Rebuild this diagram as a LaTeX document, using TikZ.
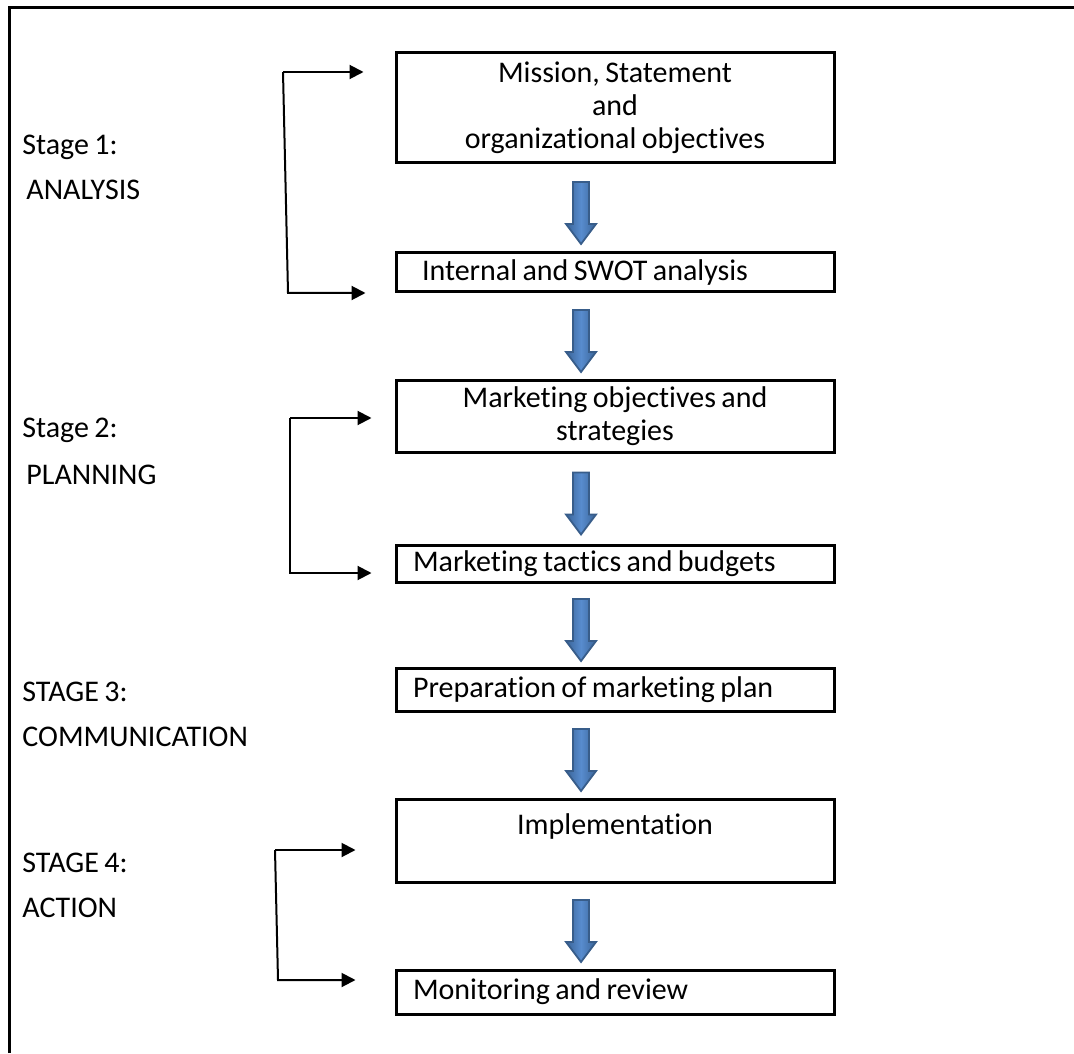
\documentclass[tikz,border=0pt]{standalone}
\usepackage{fontspec}
\setmainfont{Carlito}[Ligatures=NoCommon, WordSpace=0.8]
\usetikzlibrary{arrows.meta,calc}
\definecolor{arrowdark}{RGB}{58,100,152}
\definecolor{arrowlight}{RGB}{88,140,206}
\definecolor{arrowedge}{RGB}{56,93,138}

\begin{document}
\begin{tikzpicture}[x=0.5pt, y=-0.5pt, font=\fontsize{15}{16.5}\selectfont,
  box/.style = {draw, line width=1.5pt, minimum width=219pt, align=center, inner sep=0pt},
  leftbox/.style = {box, text width=202pt, align=flush left},
  stage/.style = {anchor=west, inner sep=0pt},
  bracket/.style = {line width=1pt, -{Triangle[length=7pt,width=7pt]}},
  downarrow/.pic = {
    \draw[arrowedge, line width=0.9pt, left color=arrowdark, right color=arrowdark, middle color=arrowlight]
      (-8,-31) -- (-8,11) -- (-15,11) -- (0,31) -- (15,11) -- (8,11) -- (8,-31) -- cycle;
  }]
\useasboundingbox (0,0) rectangle (1074,1053);
\draw[line width=1.5pt] (9,1053) -- (9,8) -- (1074,8);

% stage labels
\node[stage] (stage1) at (22,147) {Stage 1:};
\node[stage] (analysis) at (26,190) {ANALYSIS};
\node[stage] (stage2) at (22,430) {Stage 2:};
\node[stage] (planning) at (26,475) {PLANNING};
\node[stage] (stage3) at (22,692) {STAGE 3:};
\node[stage] (communication) at (22,737) {COMMUNICATION};
\node[stage] (stage4) at (22,863) {STAGE 4:};
\node[stage] (action) at (22,908) {ACTION};

% boxes
\node[box, minimum height=55pt] (mission) at (615,108) {Mission, Statement\\and\\organizational objectives};
\node[leftbox, text width=193pt, minimum height=19.5pt] (swot) at (615,272.5) {Internal and SWOT analysis};
\node[box, minimum height=36pt] (objectives) at (615,416) {Marketing objectives and\\strategies};
\node[leftbox, minimum height=18.5pt] (tactics) at (615,563.5) {Marketing tactics and budgets};
\node[leftbox, minimum height=21.5pt] (plan) at (615,689.5) {Preparation of marketing plan};
\node[box, minimum height=41.5pt] (implementation) at (615,840.5) {Implementation\\\mbox{}};
\node[leftbox, minimum height=22pt] (monitoring) at (615,992) {Monitoring and review};

% block arrows
\foreach \a/\b in {mission/swot, swot/objectives, objectives/tactics, tactics/plan, plan/implementation, implementation/monitoring}
  \pic at ($(\a.south)!0.5!(\b.north) + (-34,5)$) {downarrow};

% stage brackets
\coordinate (s1top) at (283,72);
\coordinate (s1bot) at (288,293);
\coordinate (s2top) at (290,418);
\coordinate (s2bot) at (290,573);
\coordinate (s4top) at (275,850);
\coordinate (s4bot) at (278,980);
\draw[bracket, shorten >=15.5pt] (s1top) -- (s1top -| mission.west);
\draw[bracket, shorten >=14.5pt] (s1top) -- (s1bot) -- (s1bot -| swot.west);
\draw[bracket, shorten >=11.5pt] (s2top) -- (s2top -| objectives.west);
\draw[bracket, shorten >=11.5pt] (s2top) -- (s2bot) -- (s2bot -| tactics.west);
\draw[bracket, shorten >=19.5pt] (s4top) -- (s4top -| implementation.west);
\draw[bracket, shorten >=19.5pt] (s4top) -- (s4bot) -- (s4bot -| monitoring.west);
\end{tikzpicture}
\end{document}
